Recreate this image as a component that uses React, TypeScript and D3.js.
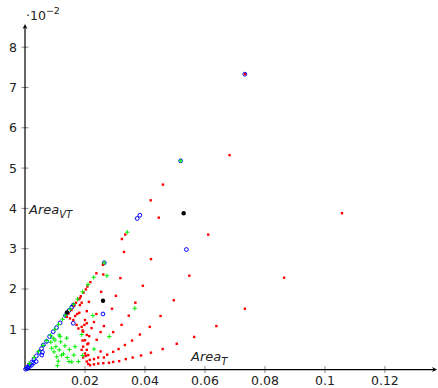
import React from 'react';
import * as d3 from 'd3';

// [Area_T, Area_VT]
const redPts: [number, number][] = [
  [0.0682, 0.0532], [0.1057, 0.0388], [0.0864, 0.0228], [0.0733, 0.0151], [0.0733, 0.0733],
  [0.0611, 0.0335], [0.042, 0.0274], [0.0548, 0.0233], [0.0393, 0.0208], [0.0496, 0.0172],
  [0.0452, 0.0133], [0.0416, 0.0106], [0.0638, 0.0108], [0.0383, 0.0087], [0.0564, 0.0081],
  [0.0506, 0.0064], [0.0459, 0.0051], [0.042, 0.0042], [0.0387, 0.0035],
  [0.046, 0.0459], [0.0419, 0.042], [0.0446, 0.0377], [0.033, 0.0292], [0.0334, 0.0335],
  [0.0323, 0.0324], [0.026, 0.026], [0.0238, 0.0239], [0.0261, 0.0236], [0.0318, 0.0227],
  [0.0218, 0.0217], [0.0208, 0.0206], [0.0254, 0.0193], [0.0303, 0.0183], [0.0368, 0.0166],
  [0.0213, 0.0168], [0.029, 0.0151], [0.0206, 0.0145], [0.0238, 0.0138], [0.0346, 0.0134],
  [0.023, 0.0118], [0.0198, 0.0111], [0.0322, 0.0111], [0.0263, 0.0108], [0.0222, 0.0103],
  [0.0192, 0.0097], [0.0252, 0.0093], [0.0294, 0.0093], [0.0214, 0.0083], [0.0239, 0.0074],
  [0.0192, 0.0072], [0.0357, 0.0072], [0.0208, 0.0063], [0.0333, 0.0061], [0.0312, 0.0051],
  [0.0189, 0.0049], [0.0252, 0.0045], [0.0294, 0.0044], [0.0274, 0.0037], [0.0203, 0.0034],
  [0.0263, 0.003], [0.0244, 0.003], [0.023, 0.0026], [0.0216, 0.0024], [0.0359, 0.003],
  [0.0217, 0.0011], [0.023, 0.0013], [0.0244, 0.0015], [0.0261, 0.0016], [0.028, 0.0017],
  [0.0294, 0.0019], [0.0314, 0.0021], [0.0336, 0.0026],
  [0.015, 0.0127], [0.0161, 0.0123], [0.0167, 0.0133], [0.0174, 0.0138], [0.0181, 0.0141],
  [0.0183, 0.016], [0.0189, 0.0166], [0.0172, 0.0111], [0.0178, 0.0102], [0.0189, 0.0106],
  [0.02, 0.0123], [0.0206, 0.0115], [0.0194, 0.0094], [0.0206, 0.0086], [0.02, 0.0073],
  [0.0211, 0.0065], [0.0194, 0.0057], [0.0206, 0.0049], [0.02, 0.004], [0.0211, 0.0036],
  [0.0194, 0.003], [0.0206, 0.002], [0.0211, 0.0014],
  [0.0145, 0.0139], [0.0155, 0.0148], [0.0163, 0.0158], [0.017, 0.0166], [0.0178, 0.0174],
  [0.0186, 0.0182], [0.0195, 0.0191], [0.0203, 0.0199], [0.0183, 0.0177], [0.0139, 0.0131],
];

const greenPts: [number, number][] = [
  [0.0341, 0.0341], [0.0229, 0.0229], [0.021, 0.0211], [0.0192, 0.0193], [0.0264, 0.0265],
  [0.0519, 0.0518], [0.0015, 0.0015], [0.003, 0.003], [0.0045, 0.0045], [0.006, 0.006],
  [0.0072, 0.0072], [0.0085, 0.0085], [0.01, 0.01], [0.0112, 0.0112], [0.0125, 0.0125],
  [0.0135, 0.0135], [0.015, 0.015], [0.0162, 0.0162], [0.0175, 0.0175],
  [0.0273, 0.0233], [0.0366, 0.0152], [0.0226, 0.0134], [0.0281, 0.0082], [0.0189, 0.0087],
  [0.023, 0.0051], [0.0192, 0.0035],
  [0.0086, 0.0068], [0.0094, 0.0078], [0.0103, 0.0057], [0.0114, 0.0049], [0.0119, 0.0069],
  [0.0128, 0.0039], [0.0133, 0.0059], [0.0141, 0.003], [0.0148, 0.005], [0.0156, 0.0019],
  [0.0163, 0.0036], [0.0114, 0.0086], [0.0139, 0.0078], [0.0178, 0.002], [0.0089, 0.0053],
  [0.0097, 0.0044], [0.0106, 0.0032], [0.0111, 0.0021], [0.0108, 0.001], [0.0122, 0.0036],
  [0.0147, 0.002], [0.0167, 0.0057], [0.01, 0.0073], [0.0117, 0.0082],
];

const bluePts: [number, number][] = [
  [0.0002, 0.0001], [0.0008, 0.0003], [0.0014, 0.0007], [0.0022, 0.0011], [0.0028, 0.0016],
  [0.0037, 0.002], [0.0009, 0.0007], [0.0015, 0.0012], [0.0022, 0.0018], [0.003, 0.0026],
  [0.0038, 0.0034], [0.0047, 0.0043], [0.0055, 0.0052], [0.0061, 0.0061], [0.0072, 0.007],
  [0.0082, 0.0082], [0.0094, 0.0094], [0.0105, 0.0104], [0.0117, 0.0116], [0.0135, 0.0134],
  [0.0147, 0.0147], [0.0156, 0.0155], [0.0161, 0.016],
  [0.0056, 0.0036], [0.0058, 0.0043], [0.0161, 0.0115], [0.026, 0.0138], [0.0538, 0.0298],
  [0.0264, 0.0265], [0.0374, 0.0375], [0.0383, 0.0383], [0.0519, 0.0518], [0.0733, 0.0733],
];

const blackPts: [number, number][] = [
  [0.0529, 0.0388], [0.026, 0.0171], [0.014, 0.0142],
];

const xTicks = [0.02, 0.04, 0.06, 0.08, 0.1, 0.12];
const yTicks = [0.01, 0.02, 0.03, 0.04, 0.05, 0.06, 0.07, 0.08];

const W = 438;
const H = 388;

export default function App() {
  const x = d3.scaleLinear().domain([0, 0.1377]).range([25, 438]);
  const y = d3.scaleLinear().domain([0, 0.0855]).range([369.6, 25]);
  const font = '"DejaVu Sans", sans-serif';
  const x0 = x(0);
  const y0 = y(0);

  return (
    <svg width={W} height={H} style={{ position: 'absolute', left: 0, top: 0 }} fontFamily={font}>
      <rect width={W} height={H} fill="#fff" />

      {/* ticks */}
      {xTicks.map(t => (
        <g key={'xt' + t}>
          <line x1={x(t)} x2={x(t)} y1={y0 - 3.5} y2={y0 + 3.5} stroke="#888" strokeWidth={1} />
          <text x={x(t)} y={y0 + 15.8} textAnchor="middle" fontSize={12.5} fill="#222">{d3.format('~g')(t)}</text>
        </g>
      ))}
      {yTicks.map(t => (
        <g key={'yt' + t}>
          <line x1={x0 - 3.5} x2={x0 + 3.5} y1={y(t)} y2={y(t)} stroke="#888" strokeWidth={1} />
          <text x={x0 - 8} y={y(t) + 4.5} textAnchor="end" fontSize={12.5} fill="#222">{Math.round(t * 100)}</text>
        </g>
      ))}

      {/* axes with arrows */}
      <line x1={x0} x2={W - 2} y1={y0} y2={y0} stroke="#000" strokeWidth={1.2} />
      <path d={`M${W - 1},${y0} l-5,-2.5 l1.5,2.5 l-1.5,2.5 z`} fill="#000" />
      <line x1={x0} x2={x0} y1={y0} y2={y(0.0855) + 1} stroke="#000" strokeWidth={1.2} />
      <path d={`M${x0},${y(0.0855) - 1} l-2.5,5 l2.5,-1.5 l2.5,1.5 z`} fill="#000" />

      <text x={x0 + 1} y={20} fontSize={12.5} fill="#222">·10<tspan dy={-6} fontSize={9.5}>−2</tspan></text>

      {/* data */}
      <g fill="none" stroke="#0000ff" strokeWidth={1}>
        {bluePts.map((d, i) => (
          <circle key={'b' + i} cx={x(d[0])} cy={y(d[1])} r={1.9} />
        ))}
      </g>
      <g>
        {redPts.map((d, i) => (
          <rect key={'r' + i} x={x(d[0]) - 1.2} y={y(d[1]) - 1.2} width={2.4} height={2.4} fill="#ff0000" />
        ))}
      </g>
      <g stroke="#00f000" strokeWidth={1}>
        {greenPts.map((d, i) => (
          <path key={'g' + i} d={`M${x(d[0]) - 2.2},${y(d[1])}h4.4M${x(d[0])},${y(d[1]) - 2.2}v4.4`} />
        ))}
      </g>
      <g fill="#000">
        {blackPts.map((d, i) => (
          <circle key={'k' + i} cx={x(d[0])} cy={y(d[1])} r={2.2} />
        ))}
      </g>

      {/* axis titles */}
      <text x={29} y={214} fontSize={13} fontStyle="italic" fill="#222">Area<tspan dy={4} fontSize={10}>VT</tspan></text>
      <text x={191} y={361} fontSize={13} fontStyle="italic" fill="#222">Area<tspan dy={4} fontSize={10}>T</tspan></text>
    </svg>
  );
}
